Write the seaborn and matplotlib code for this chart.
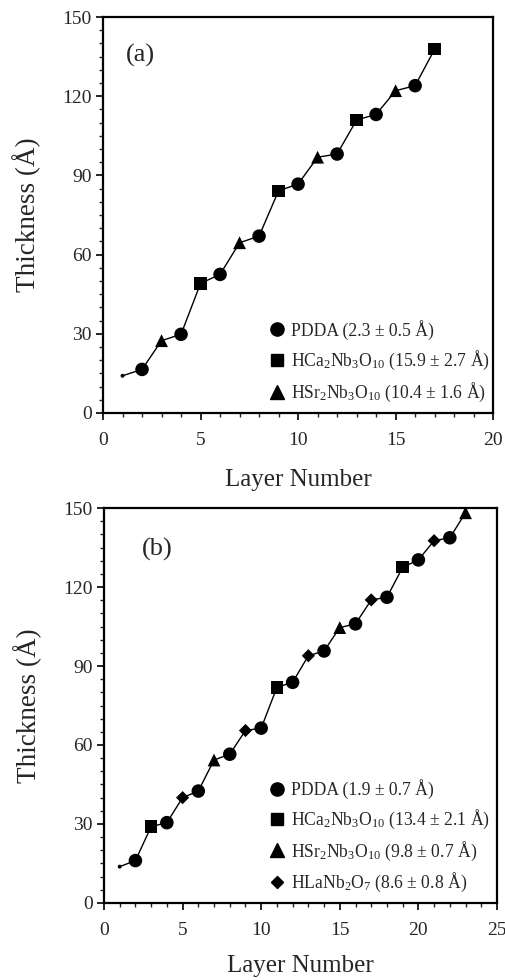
import matplotlib
matplotlib.use("Agg")
import matplotlib.pyplot as plt
from matplotlib.lines import Line2D
from matplotlib.ticker import MultipleLocator
import pandas as pd
import seaborn as sns

# panel (a): PDDA / HCa2Nb3O10 / HSr2Nb3O10
layers_a = list(range(1, 18))
thick_a = [14.1, 16.5, 27.4, 29.8, 49.1, 52.5, 64.5, 67.0, 84.2, 86.7,
           96.9, 98.1, 111.0, 113.1, 122.1, 124.0, 137.8]
mat_a = ["sub", "PDDA", "HSr", "PDDA", "HCa", "PDDA", "HSr", "PDDA", "HCa",
         "PDDA", "HSr", "PDDA", "HCa", "PDDA", "HSr", "PDDA", "HCa"]

# panel (b): adds HLaNb2O7
layers_b = list(range(1, 24))
thick_b = [13.8, 16.1, 29.0, 30.5, 40.0, 42.5, 54.3, 56.5, 65.5, 66.4,
           81.9, 83.8, 93.9, 95.7, 104.6, 106.0, 115.1, 116.1, 127.5, 130.3,
           137.6, 138.7, 148.2]
mat_b = ["sub", "PDDA", "HCa", "PDDA", "HLa", "PDDA", "HSr", "PDDA", "HLa",
         "PDDA", "HCa", "PDDA", "HLa", "PDDA", "HSr", "PDDA", "HLa", "PDDA",
         "HCa", "PDDA", "HLa", "PDDA", "HSr"]

legend_a = ["PDDA (2.3 ± 0.5 Å)",
            "HCa$_2$Nb$_3$O$_{10}$ (15.9 ± 2.7 Å)",
            "HSr$_2$Nb$_3$O$_{10}$ (10.4 ± 1.6 Å)"]
legend_b = ["PDDA (1.9 ± 0.7 Å)",
            "HCa$_2$Nb$_3$O$_{10}$ (13.4 ± 2.1 Å)",
            "HSr$_2$Nb$_3$O$_{10}$ (9.8 ± 0.7 Å)",
            "HLaNb$_2$O$_7$ (8.6 ± 0.8 Å)"]

markers = {"sub": "o", "PDDA": "o", "HCa": "s", "HSr": "^", "HLa": "D"}
sizes = {"sub": 8, "PDDA": 95, "HCa": 80, "HSr": 85, "HLa": 45}
leg_ms = {"PDDA": 9.5, "HCa": 9, "HSr": 9.5, "HLa": 6.5}

sns.set_style("ticks")
plt.rcParams["font.family"] = ["Liberation Serif", "DejaVu Serif"]
plt.rcParams["mathtext.fontset"] = "custom"
plt.rcParams["mathtext.rm"] = "Liberation Serif"
plt.rcParams["mathtext.default"] = "regular"

fig = plt.figure(figsize=(5.06, 9.8), dpi=100)
ax_a = fig.add_axes([0.2036, 0.5786, 0.771, 0.404])
ax_b = fig.add_axes([0.2055, 0.0786, 0.7767, 0.403])


def draw(ax, layers, thick, mat, keys, labels, xmax, tag, tagpos, legpos,
         spacing, xpad):
    df = pd.DataFrame({"layer": layers, "thick": thick, "mat": mat})
    sns.lineplot(data=df, x="layer", y="thick", color="black", lw=1.0, ax=ax)
    sns.scatterplot(data=df, x="layer", y="thick", style="mat", size="mat",
                    markers=markers, sizes=sizes, color="black",
                    edgecolor="black", linewidth=0, legend=False, ax=ax)
    ax.set_xlim(0, xmax)
    ax.set_ylim(0, 150)
    ax.xaxis.set_major_locator(MultipleLocator(5))
    ax.xaxis.set_minor_locator(MultipleLocator(1))
    ax.yaxis.set_major_locator(MultipleLocator(30))
    ax.yaxis.set_minor_locator(MultipleLocator(5))
    ax.tick_params(which="major", direction="out", length=5, width=1.2,
                   labelsize=14, color="black")
    ax.tick_params(axis="x", which="major", pad=9)
    ax.tick_params(axis="y", which="major", pad=3)
    ax.tick_params(which="minor", direction="out", length=2.8, width=1.0)
    for s in ax.spines.values():
        s.set_linewidth(1.6)
        s.set_color("black")
    ax.set_xlabel("Layer Number", fontsize=18, labelpad=xpad)
    ax.set_ylabel("Thickness (Å)", fontsize=19.5, labelpad=15)
    ax.text(tagpos[0], tagpos[1], tag, transform=ax.transAxes, fontsize=19,
            ha="center", va="center")
    handles = [Line2D([], [], marker=markers[k], color="black", ls="none",
                      markersize=leg_ms[k]) for k in keys]
    ax.legend(handles, labels, loc="lower left", bbox_to_anchor=legpos,
              frameon=False, fontsize=12.7, handlelength=0.6,
              handletextpad=0.5, labelspacing=spacing, borderpad=0)


draw(ax_a, layers_a, thick_a, mat_a, ["PDDA", "HCa", "HSr"], legend_a, 20,
     "(a)", (0.095, 0.904), (0.41, 0.0), 0.52, 14)
draw(ax_b, layers_b, thick_b, mat_b, ["PDDA", "HCa", "HSr", "HLa"], legend_b,
     25, "(b)", (0.135, 0.894), (0.405, 0.0), 0.48, 11)

fig.savefig("out.png", dpi=100)
